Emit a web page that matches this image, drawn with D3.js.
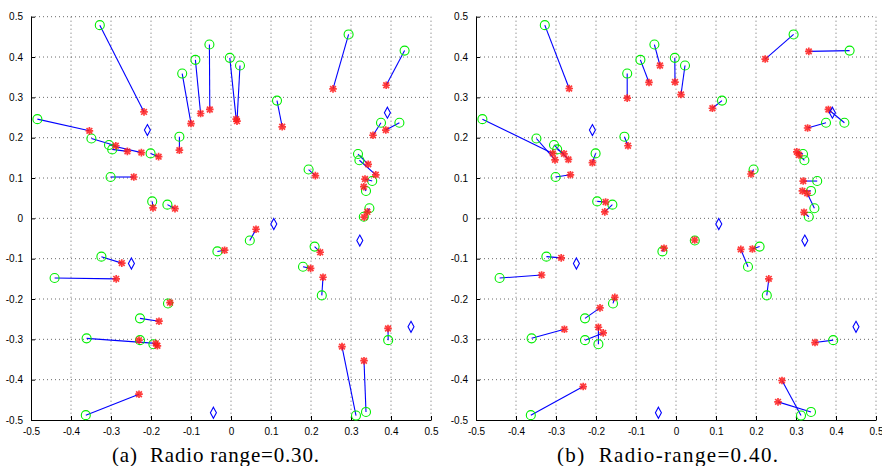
<!DOCTYPE html>
<html>
<head>
<meta charset="utf-8">
<script src="https://cdn.jsdelivr.net/npm/d3@7"></script>
<style>
  body { margin: 0; background: #fff; }
  .tick-label { font-family: "Liberation Sans", Arial, sans-serif; font-size: 10px; fill: #000; }
  .caption { font-family: "Liberation Serif", "DejaVu Serif", serif; font-size: 21px; fill: #000; }
  .grid line { stroke: #444; stroke-width: 0.8; stroke-dasharray: 1,3; }
</style>
</head>
<body>
<svg id="chart" width="882" height="466"></svg>
<script>
// true node positions (same in both panels)
const truePos = [
  [-0.328, 0.479], [-0.484, 0.246], [-0.349, 0.198], [-0.305, 0.182], [-0.297, 0.171],
  [-0.301, 0.1025], [-0.201, 0.161], [-0.197, 0.042], [-0.159, 0.034], [-0.129, 0.2025],
  [-0.122, 0.359], [-0.089, 0.393], [-0.054, 0.431], [-0.003, 0.398], [0.0225, 0.379],
  [0.115, 0.292], [0.294, 0.456], [0.434, 0.416], [0.375, 0.237], [0.421, 0.237],
  [0.3175, 0.1595], [0.321, 0.144], [0.353, 0.0925], [0.3375, 0.068], [0.346, 0.025],
  [0.332, 0.004], [0.194, 0.121], [0.047, -0.055], [0.209, -0.070], [0.18, -0.12],
  [0.227, -0.191], [0.393, -0.302], [0.3125, -0.489], [0.3375, -0.480], [-0.324, -0.095],
  [-0.441, -0.148], [-0.034, -0.082], [-0.1575, -0.211], [-0.2275, -0.248], [-0.361, -0.2975],
  [-0.2275, -0.302], [-0.194, -0.312], [-0.363, -0.488]
];

// anchor nodes
const anchors = [
  [-0.209, 0.219], [0.391, 0.262], [0.107, -0.014], [0.322, -0.055],
  [-0.249, -0.112], [-0.044, -0.482], [0.45, -0.269]
];

// estimated positions, radio range 0.30
const estA = [
  [-0.2175, 0.264], [-0.354, 0.217], [-0.288, 0.18], [-0.224, 0.163], [-0.259, 0.166],
  [-0.243, 0.1025], [-0.181, 0.153], [-0.195, 0.026], [-0.14, 0.024], [-0.129, 0.169],
  [-0.1, 0.235], [-0.076, 0.26], [-0.053, 0.27], [0.013, 0.246], [0.015, 0.241],
  [0.128, 0.227], [0.255, 0.321], [0.388, 0.33], [0.355, 0.206], [0.387, 0.219],
  [0.343, 0.134], [0.362, 0.108], [0.335, 0.0975], [0.332, 0.0785], [0.341, 0.016],
  [0.333, 0.003], [0.211, 0.106], [0.0625, -0.027], [0.223, -0.084], [0.199, -0.124],
  [0.23, -0.146], [0.3925, -0.273], [0.2775, -0.318], [0.3325, -0.353], [-0.273, -0.111],
  [-0.287, -0.15], [-0.016, -0.079], [-0.1525, -0.209], [-0.18, -0.255], [-0.188, -0.31],
  [-0.23, -0.302], [-0.184, -0.316], [-0.23, -0.436]
];

// estimated positions, radio range 0.40
const estB = [
  [-0.267, 0.322], [-0.308, 0.161], [-0.3025, 0.145], [-0.269, 0.146], [-0.28, 0.16],
  [-0.264, 0.108], [-0.209, 0.138], [-0.176, 0.0405], [-0.178, 0.016], [-0.12, 0.18],
  [-0.122, 0.298], [-0.0675, 0.337], [-0.04, 0.379], [-0.0025, 0.338], [0.0125, 0.307],
  [0.091, 0.273], [0.223, 0.395], [0.332, 0.414], [0.329, 0.224], [0.381, 0.27],
  [0.302, 0.165], [0.3075, 0.157], [0.318, 0.0925], [0.316, 0.068], [0.328, 0.062],
  [0.32, 0.015], [0.1875, 0.11], [0.0467, -0.0537], [0.191, -0.076], [0.162, -0.077],
  [0.232, -0.15], [0.3475, -0.308], [0.265, -0.402], [0.255, -0.455], [-0.287, -0.098],
  [-0.336, -0.1405], [-0.03, -0.074], [-0.153, -0.196], [-0.19, -0.222], [-0.279, -0.275],
  [-0.182, -0.284], [-0.194, -0.270], [-0.232, -0.417]
];

const ticks = [-0.5, -0.4, -0.3, -0.2, -0.1, 0, 0.1, 0.2, 0.3, 0.4, 0.5];
const captions = ["(a)  Radio range=0.30.", "(b)  Radio-range=0.40."];

// global layout settings
const plotTop = 16.7, plotBottom = 420,
      panelLefts = [31, 476],
      plotWidth = 400,
      tickLen = 4,
      circleR = 4.5,
      starR = 3.8,
      captionOffset = 81,
      captionWidths = [207, 221];

const svg = d3.select("#chart");
const fmt = v => v === 0 ? "0" : String(v);

/**
 * Draws one localization panel
 * @param {number} left pixel x of the left axis
 * @param {array} est estimated positions
 * @param {string} caption text under the panel
 * @param {number} capWidth caption text width
 */
function drawPanel(left, est, caption, capWidth) {
  const x = d3.scaleLinear().domain([-0.5, 0.5]).range([left, left + plotWidth]);
  const y = d3.scaleLinear().domain([-0.5, 0.5]).range([plotBottom, plotTop]);
  const g = svg.append("g");

  //dotted grid
  const grid = g.append("g").classed("grid", true);
  grid.selectAll(".gx").data(ticks.filter(t => t > -0.5)).join("line")
      .attr("x1", d => x(d)).attr("x2", d => x(d))
      .attr("y1", plotTop).attr("y2", plotBottom);
  grid.selectAll(".gy").data(ticks.filter(t => t > -0.5)).join("line")
      .attr("x1", left).attr("x2", left + plotWidth)
      .attr("y1", d => y(d)).attr("y2", d => y(d));

  //axes with inward ticks
  g.append("g")
      .attr("transform", `translate(0,${plotBottom})`)
      .call(d3.axisBottom(x).tickValues(ticks).tickSizeInner(-tickLen).tickSizeOuter(0)
            .tickFormat(fmt).tickPadding(8))
      .call(a => a.selectAll("text").attr("class", "tick-label").attr("font-size", null).attr("font-family", null));
  g.append("g")
      .attr("transform", `translate(${left},0)`)
      .call(d3.axisLeft(y).tickValues(ticks).tickSizeInner(-tickLen).tickSizeOuter(0)
            .tickFormat(fmt).tickPadding(8))
      .call(a => a.selectAll("text").attr("class", "tick-label").attr("font-size", null).attr("font-family", null));
  g.selectAll(".domain").attr("stroke", "#000").attr("stroke-width", 1);
  g.selectAll(".tick line").attr("stroke", "#000");

  //error lines true -> estimate
  g.append("g").selectAll("line").data(truePos).join("line")
      .attr("x1", d => x(d[0])).attr("y1", d => y(d[1]))
      .attr("x2", (d, i) => x(est[i][0])).attr("y2", (d, i) => y(est[i][1]))
      .attr("stroke", "#0000ff").attr("stroke-width", 1.1);

  //true positions as green circles
  g.append("g").selectAll("circle").data(truePos).join("circle")
      .attr("cx", d => x(d[0])).attr("cy", d => y(d[1])).attr("r", circleR)
      .attr("fill", "none").attr("stroke", "#00ee00").attr("stroke-width", 1.1);

  //estimates as red asterisks
  const s = starR, s2 = starR * 0.75;
  g.append("g").selectAll("path").data(est).join("path")
      .attr("transform", d => `translate(${x(d[0])},${y(d[1])})`)
      .attr("d", `M${-s},0H${s}M0,${-s}V${s}M${-s2},${-s2}L${s2},${s2}M${-s2},${s2}L${s2},${-s2}`)
      .attr("stroke", "#ff1a1a").attr("stroke-width", 1.7).attr("stroke-opacity", 0.85);

  //anchors as blue diamonds
  g.append("g").selectAll("path").data(anchors).join("path")
      .attr("transform", d => `translate(${x(d[0])},${y(d[1])})`)
      .attr("d", "M0,-5.5L3,0L0,5.5L-3,0Z")
      .attr("fill", "none").attr("stroke", "#0000ff").attr("stroke-width", 1.1);

  //caption
  g.append("text").classed("caption", true)
      .attr("x", left + captionOffset).attr("y", 462)
      .attr("textLength", capWidth)
      .attr("lengthAdjust", "spacing")
      .attr("xml:space", "preserve")
      .text(caption);
}

drawPanel(panelLefts[0], estA, captions[0], captionWidths[0]);
drawPanel(panelLefts[1], estB, captions[1], captionWidths[1]);
</script>
</body>
</html>
